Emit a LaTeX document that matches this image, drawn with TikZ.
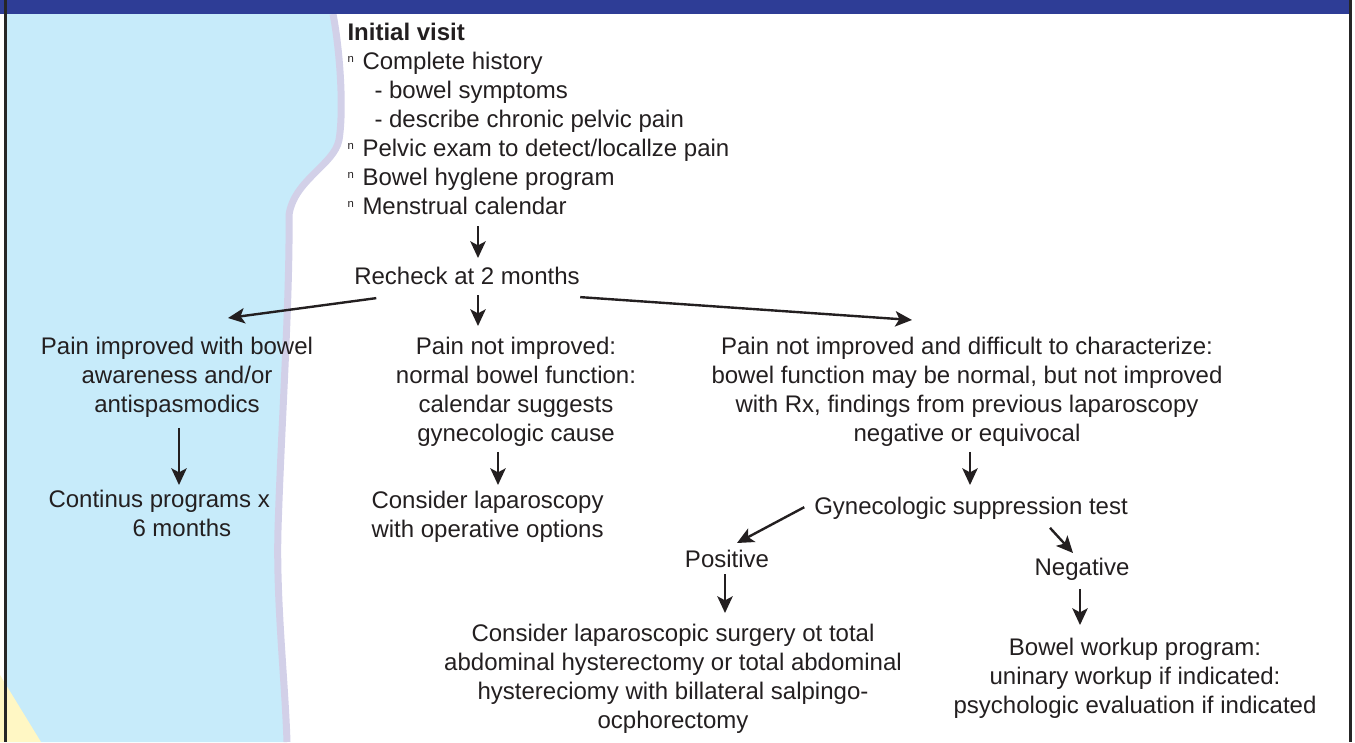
\documentclass[tikz,border=0pt]{standalone}
\usepackage{fontspec}
\setmainfont{Liberation Sans}
\usetikzlibrary{arrows.meta,calc}
\definecolor{bandblue}{RGB}{46,61,150}
\definecolor{skyfill}{RGB}{199,235,250}
\definecolor{rimlav}{RGB}{210,208,232}
\definecolor{sandfill}{RGB}{255,247,196}
\definecolor{inkgray}{RGB}{35,31,32}
\newcommand{\nbul}{\makebox[11.25pt][l]{\raisebox{0.28em}{\fontsize{8.5}{8.5}\selectfont n}}}
\newcommand{\subln}{\hspace*{20.25pt}- }

\tikzset{every picture/.style={line width=0.75pt}}

\begin{document}
\begin{tikzpicture}[x=0.75pt,y=0.75pt,yscale=-1,xscale=1,
  txt/.style={inner sep=0pt,align=center,text=inkgray,font=\fontsize{18}{21.75}\selectfont},
  lft/.style={txt,align=left},
  arr/.style={draw=inkgray,line width=1.8pt,-{Stealth[length=12.5pt,width=11.5pt,inset=3pt]}}]
\useasboundingbox (0,0) rectangle (1355,742);

%Shape: light blue side panel
\fill[skyfill] (5,14) -- (333,14) .. controls (340,50) and (344,110) .. (339,140) .. controls (334,165) and (294,180) .. (289,215) .. controls (290,300) and (281,430) .. (278,530) .. controls (276,600) and (285,680) .. (287,742) -- (5,742) -- cycle;
%Shape: panel rim
\draw[rimlav,line width=5.25pt] (333,14) .. controls (340,50) and (344,110) .. (339,140) .. controls (334,165) and (294,180) .. (289,215) .. controls (290,300) and (281,430) .. (278,530) .. controls (276,600) and (285,680) .. (287,742);
%Shape: yellow corner
\fill[sandfill] (0,675) -- (41,742) -- (0,742) -- cycle;
%Shape: top band and frame lines
\fill[bandblue] (0,0) rectangle (1351,14);
\draw[black!85,line width=2.25pt] (5,0) -- (5,742);
\draw[black!85,line width=2.25pt] (1350,0) -- (1350,742);

% Text Nodes
\node[lft,anchor=north west] (visit) at (347,22.5) {\textbf{Initial visit}\\
  \nbul Complete history\\
  \subln bowel symptoms\\
  \subln describe chronic pelvic pain\\
  \nbul Pelvic exam to detect/locallze pain\\
  \nbul Bowel hyglene program\\
  \nbul Menstrual calendar};
\node[txt,anchor=north] (recheck) at (467,266.5) {Recheck at 2 months};
\node[txt,anchor=north] (improved) at (177,336.5) {Pain improved with bowel\\awareness and/or\\antispasmodics};
\node[txt,anchor=north] (notimproved) at (516,336.5) {Pain not improved:\\normal bowel function:\\calendar suggests\\gynecologic cause};
\node[txt,anchor=north] (difficult) at (967,336.5) {Pain not improved and difficult to characterize:\\bowel function may be normal, but not improved\\with Rx, findings from previous laparoscopy\\negative or equivocal};
\node[lft,anchor=north west] (continus) at (48,489.5) {Continus programs x\\\hspace*{63pt}6 months};
\node[lft,anchor=north west] (lapar) at (371,491) {Consider laparoscopy\\with operative options};
\node[txt,anchor=north] (suppression) at (971,496.5) {Gynecologic suppression test};
\node[txt,anchor=north] (positive) at (727,549.5) {Positive};
\node[txt,anchor=north] (negative) at (1082,557.5) {Negative};
\node[txt,anchor=north] (surgery) at (673,624) {Consider laparoscopic surgery ot total\\abdominal hysterectomy or total abdominal\\hystereciomy with billateral salpingo-\\ocphorectomy};
\node[txt,anchor=north] (workup) at (1135,638) {Bowel workup program:\\uninary workup if indicated:\\psychologic evaluation if indicated};

% Arrows
\draw[arr] ($(visit.south west)+(131,11)$) -- ($(recheck.north)+(11,-8.5)$);
\draw[arr] ($(recheck.south west)+(22.5,13)$) -- ($(improved.north)+(51,-18.5)$);
\draw[arr] ($(recheck.south)+(11,10)$) -- ($(notimproved.north)+(-38,-10.5)$);
\draw[arr] ($(recheck.south east)+(0,12)$) -- ($(difficult.north)+(-55,-16.5)$);
\draw[arr] ($(improved.south)+(2,10)$) -- ($(continus.north west)+(131,-4.5)$);
\draw[arr] ($(notimproved.south)+(-18,5)$) -- ($(lapar.north west)+(127,-6)$);
\draw[arr] ($(difficult.south)+(3,5)$) -- ($(suppression.north)+(-1,-11.5)$);
\draw[arr] ($(suppression.west)+(-9.5,-1)$) -- ($(positive.north)+(10,-6.5)$);
\draw[arr] ($(suppression.south)+(79,8)$) -- ($(negative.north)+(-9,-4.5)$);
\draw[arr] ($(positive.south)+(-2,6)$) -- ($(surgery.north)+(52,-11)$);
\draw[arr] ($(negative.south)+(-2,8)$) -- ($(workup.north)+(-55,-13)$);

\end{tikzpicture}
\end{document}
